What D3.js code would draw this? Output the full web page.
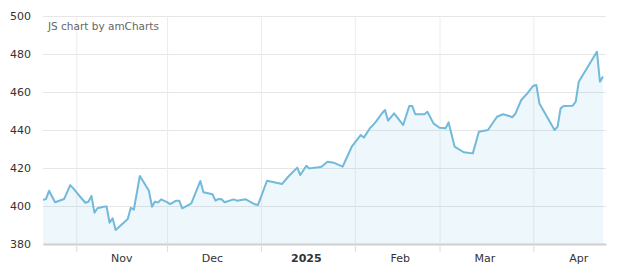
<!DOCTYPE html>
<html>
<head>
<meta charset="utf-8">
<script src="https://cdn.jsdelivr.net/npm/d3@7"></script>
<style>
  html, body { margin: 0; padding: 0; background: #ffffff; }
  svg { display: block; font-family: "DejaVu Sans", Verdana, sans-serif; }
</style>
</head>
<body>
<svg id="chart" width="620" height="277"></svg>
<script>
// ---- data ----
const dates = [
  "2024-10-21","2024-10-22","2024-10-23","2024-10-25","2024-10-28","2024-10-30","2024-10-31",
  "2024-11-02","2024-11-04","2024-11-05","2024-11-06","2024-11-07","2024-11-08","2024-11-10",
  "2024-11-11","2024-11-12","2024-11-13","2024-11-14","2024-11-18","2024-11-19","2024-11-20",
  "2024-11-22","2024-11-25","2024-11-26","2024-11-27","2024-11-28","2024-11-29","2024-12-01",
  "2024-12-02","2024-12-04","2024-12-05","2024-12-06","2024-12-09","2024-12-12","2024-12-13",
  "2024-12-16","2024-12-17","2024-12-18","2024-12-19","2024-12-20","2024-12-23","2024-12-24",
  "2024-12-27","2024-12-30","2024-12-31","2025-01-03","2025-01-08","2025-01-10","2025-01-13",
  "2025-01-14","2025-01-16","2025-01-17","2025-01-20","2025-01-21","2025-01-23","2025-01-25",
  "2025-01-28","2025-01-29","2025-01-31","2025-02-03","2025-02-04","2025-02-06","2025-02-07",
  "2025-02-08","2025-02-10","2025-02-11","2025-02-12","2025-02-14","2025-02-17","2025-02-19",
  "2025-02-20","2025-02-21","2025-02-24","2025-02-25","2025-02-27","2025-03-01","2025-03-03",
  "2025-03-04","2025-03-06","2025-03-09","2025-03-12","2025-03-14","2025-03-17","2025-03-20",
  "2025-03-22","2025-03-24","2025-03-25","2025-03-26","2025-03-28","2025-03-30","2025-04-01",
  "2025-04-02","2025-04-03","2025-04-08","2025-04-09","2025-04-10","2025-04-11","2025-04-14",
  "2025-04-15","2025-04-16","2025-04-22","2025-04-23","2025-04-24"
];
const values = [
  403.2,403.7,408.0,402.0,403.7,411.0,409.3,
  405.4,401.7,402.2,405.3,396.5,398.8,399.6,
  399.8,391.2,393.5,387.4,393.2,399.1,398.0,
  415.8,408.0,399.6,402.3,401.8,403.5,402.0,
  401.0,402.8,402.8,398.8,401.4,413.2,407.2,
  406.2,402.8,403.7,403.5,402.0,403.5,402.8,
  403.5,400.9,400.5,413.3,411.6,415.4,420.2,
  416.3,421.2,419.8,420.4,420.7,423.3,422.8,
  420.7,424.2,431.2,437.4,436.0,440.9,442.6,
  444.4,448.8,450.5,444.9,448.8,442.6,452.6,
  452.6,448.3,448.3,449.6,443.5,441.2,440.9,
  444.0,431.2,428.3,427.7,439.1,440.0,447.0,
  448.3,447.4,446.7,448.4,455.8,459.3,463.3,
  463.7,454.0,440.0,441.7,451.4,452.6,452.8,
  454.9,465.4,481.2,465.4,468.1
];
const axisStart = "2024-10-21";
const axisEnd = "2025-04-25";
const yTicks = [380, 400, 420, 440, 460, 480, 500];
const monthLabels = ["Nov", "Dec", "2025", "Feb", "Mar", "Apr"];
const boldLabels = ["2025"];
const creditText = "JS chart by amCharts";

// ---- layout ----
const W = 620, H = 277;
const margin = { top: 16, right: 14, bottom: 33, left: 43 };
const iw = W - margin.left - margin.right;
const ih = H - margin.top - margin.bottom;

const parse = d3.timeParse("%Y-%m-%d");
const data = dates.map((d, i) => ({ date: parse(d), value: values[i] }));

const x = d3.scaleTime().domain([parse(axisStart), parse(axisEnd)]).range([0, iw]);
const y = d3.scaleLinear().domain([380, 500]).range([ih, 0]);

const svg = d3.select("#chart");
const g = svg.append("g").attr("transform", `translate(${margin.left},${margin.top})`);

// horizontal grid
const yGrid = g.append("g").call(d3.axisLeft(y).tickValues(yTicks).tickSize(-iw).tickSizeOuter(0).tickFormat(""));
yGrid.select(".domain").remove();
yGrid.selectAll("line").attr("stroke", "#e6e6e6").attr("stroke-width", 1);

// vertical grid at month starts
const monthStarts = d3.timeMonth.range(d3.timeMonth.ceil(parse(axisStart)), parse(axisEnd));
const xGrid = g.append("g").attr("transform", `translate(0,${ih})`)
  .call(d3.axisBottom(x).tickValues(monthStarts).tickSize(-ih).tickSizeOuter(0).tickFormat(""));
xGrid.select(".domain").remove();
xGrid.selectAll("line").attr("stroke", "#ececec").attr("stroke-width", 1);

// area + line
const area = d3.area().x(d => x(d.date)).y0(ih).y1(d => y(d.value));
const line = d3.line().x(d => x(d.date)).y(d => y(d.value));

g.append("path").datum(data).attr("d", area)
  .attr("fill", "#67b7dc").attr("fill-opacity", 0.11);
g.append("path").datum(data).attr("d", line)
  .attr("fill", "none").attr("stroke", "#72b9da").attr("stroke-width", 2)
  .attr("stroke-linejoin", "round");

// x axis line and ticks
const xAxis = g.append("g").attr("transform", `translate(0,${ih})`)
  .call(d3.axisBottom(x).tickValues(monthStarts).tickSize(8).tickSizeOuter(0).tickFormat(""));
xAxis.select(".domain").attr("stroke", "#cfcfcf").attr("stroke-width", 2);
xAxis.selectAll(".tick line").attr("stroke", "#dcdcdc").attr("stroke-width", 1);

// x labels at middle of each month
g.append("g").selectAll("text").data(monthStarts).join("text")
  .attr("x", d => x(d3.timeDay.offset(d, 15)))
  .attr("y", ih + 18)
  .attr("text-anchor", "middle")
  .attr("font-size", 11)
  .attr("fill", "#333")
  .attr("font-weight", (d, i) => boldLabels.includes(monthLabels[i]) ? "bold" : "normal")
  .text((d, i) => monthLabels[i]);

// y axis labels
const yAxis = g.append("g").call(d3.axisLeft(y).tickValues(yTicks).tickSize(0).tickPadding(12));
yAxis.select(".domain").remove();
yAxis.selectAll("text").attr("font-size", 11).attr("fill", "#333")
  .attr("font-family", "DejaVu Sans, Verdana, sans-serif");

// credit
g.append("text").attr("x", 5).attr("y", 14)
  .attr("font-size", 10.5).attr("fill", "#666").text(creditText);
</script>
</body>
</html>
